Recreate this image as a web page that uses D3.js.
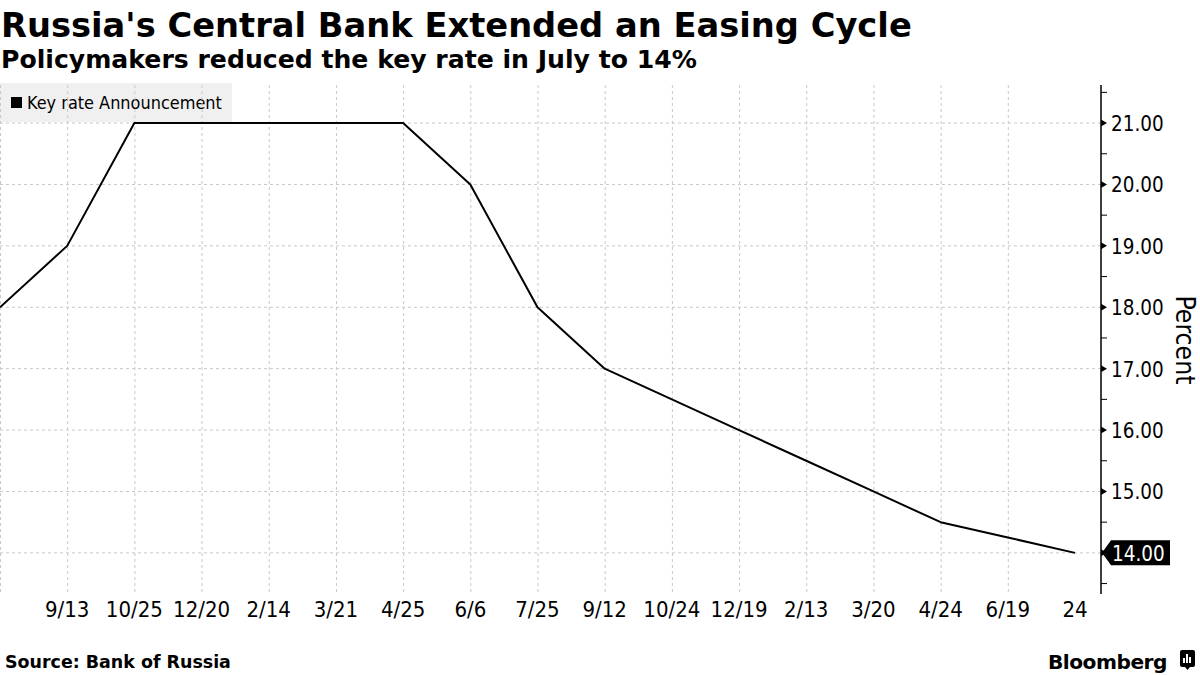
<!DOCTYPE html>
<html lang="en">
<head>
<meta charset="utf-8">
<title>Russia key rate</title>
<script src="https://d3js.org/d3.v7.min.js"></script>
<style>
  body { margin: 0; background: #fff; }
  svg { display: block; font-family: "DejaVu Sans", Verdana, sans-serif; }
  .grid line { stroke: #c8c8c8; stroke-dasharray: 3,3; stroke-width: 1; }
  .xlab, .ylab { font-family: "DejaVu Sans Condensed", "DejaVu Sans", sans-serif; font-size: 22px; fill: #000; }
</style>
</head>
<body>
<svg id="chart" width="1200" height="675"></svg>
<script>
// announcement dates (first point has no label) and key rate, %
var dateLabels = ["", "9/13", "10/25", "12/20", "2/14", "3/21", "4/25", "6/6", "7/25",
                  "9/12", "10/24", "12/19", "2/13", "3/20", "4/24", "6/19", "24"];
var keyRate = [18, 19, 21, 21, 21, 21, 21, 20, 18, 17, 16.5, 16, 15.5, 15, 14.5, 14.25, 14];
var yTicks = [14, 15, 16, 17, 18, 19, 20, 21];
var yMinor = [13.5, 14.5, 15.5, 16.5, 17.5, 18.5, 19.5, 20.5, 21.5];

(function() {
var svg = d3.select("#chart");
var axisX = 1101, plotTop = 85, plotBottom = 594;

var x = d3.scalePoint()
  .domain(d3.range(keyRate.length))
  .range([0, 1075]);

var y = d3.scaleLinear()
  .domain([13.33, 21.62])
  .range([plotBottom, plotTop]);

// shrink/grow font so the text takes a given width
function fit(t, w) {
  var fs = parseFloat(t.style("font-size"));
  var len = t.node().getComputedTextLength();
  t.style("font-size", (fs * w / len) + "px");
}
// narrow the glyphs a bit
function squeeze(sel, k) {
  sel.each(function() {
    var len = this.getComputedTextLength();
    if (len > 0) d3.select(this).attr("textLength", len * k).attr("lengthAdjust", "spacingAndGlyphs");
  });
}

// titles
var title = svg.append("text").attr("x", 1).attr("y", 37)
  .style("font-weight", "bold").style("font-size", "36px")
  .text("Russia's Central Bank Extended an Easing Cycle");
fit(title, 911);
var sub = svg.append("text").attr("x", 1).attr("y", 68)
  .style("font-weight", "bold").style("font-size", "22px")
  .text("Policymakers reduced the key rate in July to 14%");
fit(sub, 696);

// legend box (under grid)
svg.append("rect").attr("x", 0).attr("y", 83).attr("width", 232).attr("height", 39)
  .attr("fill", "#f0f0f0");
svg.append("rect").attr("x", 11).attr("y", 97).attr("width", 11).attr("height", 11)
  .attr("fill", "#000");
var leg = svg.append("text").attr("x", 27).attr("y", 109)
  .style("font-family", "'DejaVu Sans Condensed', 'DejaVu Sans', sans-serif")
  .style("font-size", "16px").text("Key rate Announcement");
fit(leg, 195);

// grid
var grid = svg.append("g").attr("class", "grid");
grid.selectAll("line.h").data(yTicks).enter().append("line")
  .attr("x1", 0).attr("x2", axisX)
  .attr("y1", function(d) { return y(d); }).attr("y2", function(d) { return y(d); });
grid.selectAll("line.v").data(d3.range(keyRate.length - 1)).enter().append("line")
  .attr("x1", function(d) { return x(d) + 0.5; }).attr("x2", function(d) { return x(d) + 0.5; })
  .attr("y1", plotTop).attr("y2", plotBottom);

// x labels
svg.selectAll("text.xlab").data(dateLabels).enter().append("text")
  .attr("class", "xlab")
  .attr("x", function(d, i) { return x(i); })
  .attr("y", 617)
  .attr("text-anchor", "middle")
  .text(function(d) { return d; });

// y axis on the right
svg.append("line").attr("x1", axisX).attr("x2", axisX).attr("y1", plotTop).attr("y2", plotBottom)
  .attr("stroke", "#000").attr("stroke-width", 1.5);
svg.selectAll("path.ytick").data(yTicks).enter().append("path")
  .attr("d", function(d) { var yy = y(d); return "M" + axisX + "," + (yy - 3.5) + "L" + (axisX + 6) + "," + yy + "L" + axisX + "," + (yy + 3.5) + "Z"; })
  .attr("fill", "#000");
svg.selectAll("line.yminor").data(yMinor).enter().append("line")
  .attr("x1", axisX).attr("x2", axisX + 6)
  .attr("y1", function(d) { return y(d); }).attr("y2", function(d) { return y(d); })
  .attr("stroke", "#000").attr("stroke-width", 1);
var yl = svg.selectAll("text.ylab").data(yTicks.filter(function(d) { return d !== 14; })).enter().append("text")
  .attr("class", "ylab")
  .attr("x", 1111)
  .attr("y", function(d) { return y(d) + 8; })
  .text(function(d) { return d.toFixed(2); });
squeeze(yl, 0.93);

var pct = svg.append("text")
  .attr("transform", "translate(1176,340) rotate(90)")
  .attr("text-anchor", "middle")
  .style("font-family", "'DejaVu Sans Condensed', 'DejaVu Sans', sans-serif")
  .style("font-size", "24px")
  .text("Percent");
fit(pct, 89);

// the line
var line = d3.line()
  .x(function(d, i) { return x(i); })
  .y(function(d) { return y(d); });
svg.append("path").datum(keyRate)
  .attr("d", line)
  .attr("fill", "none").attr("stroke", "#000").attr("stroke-width", 2)
  .attr("stroke-linejoin", "round");

// last value tag
var lastV = keyRate[keyRate.length - 1], ly = y(lastV);
svg.append("path")
  .attr("d", "M" + (axisX + 1) + "," + ly + "L" + (axisX + 10) + "," + (ly - 12.5) +
             "L1170," + (ly - 12.5) + "L1170," + (ly + 12.5) + "L" + (axisX + 10) + "," + (ly + 12.5) + "Z")
  .attr("fill", "#000");
var lt = svg.append("text").attr("x", 1112).attr("y", ly + 8)
  .attr("class", "ylab").style("fill", "#fff")
  .text(lastV.toFixed(2));
squeeze(lt, 0.93);

// footer
var src = svg.append("text").attr("x", 5).attr("y", 668)
  .style("font-weight", "bold").style("font-size", "15px")
  .text("Source:  Bank of Russia");
fit(src, 226);
var bb = svg.append("text").attr("x", 1048).attr("y", 669)
  .style("font-weight", "bold").style("font-size", "20px")
  .style("letter-spacing", "-0.5px")
  .text("Bloomberg");
fit(bb, 119);
var logo = svg.append("g").attr("transform", "translate(1180,650)");
logo.append("rect").attr("width", 15).attr("height", 17).attr("rx", 2).attr("fill", "#000");
logo.append("path").attr("d", "M5,17L7.5,20L10,17Z").attr("fill", "#000");
logo.selectAll("rect.bar").data([4, 7, 10]).enter().append("rect")
  .attr("x", function(d) { return d - 1; })
  .attr("y", function(d, i) { return [8, 4, 7][i]; })
  .attr("width", 2)
  .attr("height", function(d, i) { return 13 - [8, 4, 7][i]; })
  .attr("fill", "#fff");
})();
</script>
</body>
</html>
